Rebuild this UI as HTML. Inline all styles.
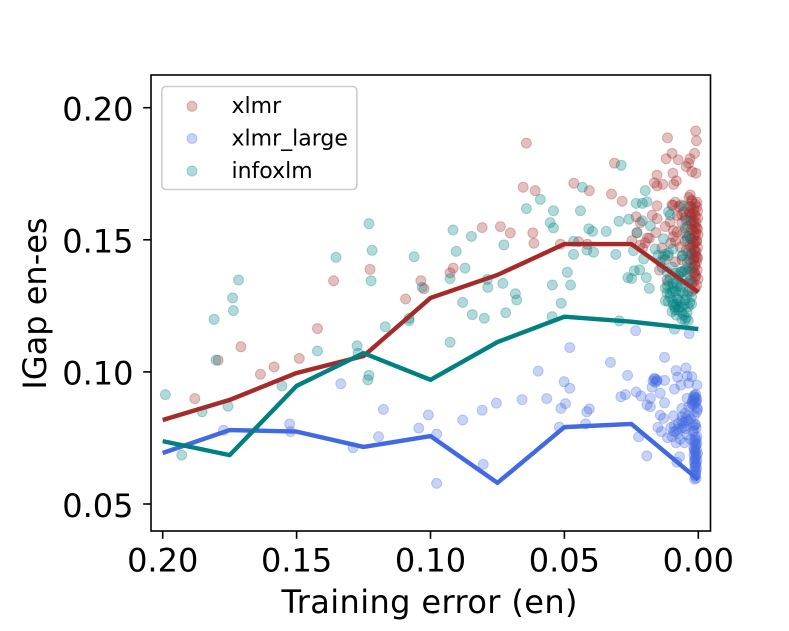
<!DOCTYPE html>
<html lang="en">
<head>
<meta charset="utf-8">
<title>IGap en-es vs training error</title>
<style>
html,body{margin:0;padding:0;background:#fff;}
svg{display:block;}
text{font-family:"DejaVu Sans","Liberation Sans",sans-serif;fill:#000;}
</style>
</head>
<body>
<svg id="chart" xmlns="http://www.w3.org/2000/svg" width="789" height="631" viewBox="0 0 789 631"></svg>
<script>
const xTickValues = [0.20, 0.15, 0.10, 0.05, 0.00];
const yTickValues = [0.05, 0.10, 0.15, 0.20];
const xTickLabels = ['0.20', '0.15', '0.10', '0.05', '0.00'];
const yTickLabels = ['0.05', '0.10', '0.15', '0.20'];
const seriesNames = ['xlmr', 'xlmr_large', 'infoxlm'];

const lineErrors = [0.2, 0.175, 0.15, 0.125, 0.1, 0.075, 0.05, 0.025, 0];
const xlmrLine = [0.0818, 0.0894, 0.0996, 0.106, 0.128, 0.1367, 0.1484, 0.1484, 0.1302];
const xlmrLargeLine = [0.0693, 0.078, 0.0774, 0.0716, 0.0757, 0.058, 0.0791, 0.0803, 0.0592];
const infoxlmLine = [0.0738, 0.0685, 0.0947, 0.1071, 0.097, 0.1113, 0.1209, 0.119, 0.1162];

const xlmrPoints = [
[.1362,.1345],[.1226,.1388],[.1036,.1345],[.1024,.1315],[.1093,.1276],[.1708,.1095],[.1422,.1164],[.1793,.1044],[.1635,.0991],[.1584,.1019],[.149,.1051],[.188,.0899],
[.0642,.1866],[.0654,.1699],[.0609,.1686],[.0807,.1546],[.0739,.155],[.0702,.1526],[.0618,.1526],[.0614,.1487],[.0915,.1393],[.0927,.1375],[.0515,.1483],[.0465,.1714],[.0407,.1686],[.0313,.179],[.0324,.1673],[.0284,.1646],[.0447,.1493],[.0414,.1483],[.0248,.1497],[.0232,.1587],[.0217,.1565],[.0229,.1527],[.0183,.1506],[.0198,.1489],[.0208,.1468],
[.0154,.1629],[.0172,.1593],[.0154,.158],[.0158,.1527],[.0123,.155],[.0154,.1745],[.0164,.1716],[.0154,.1704],[.0133,.171],[.0115,.1886],[.0098,.1827],[.012,.1807],[.0075,.1803],[.0095,.1752],[.0082,.1723],[.0092,.171],[.001,.1912],[.0007,.1875],[.0014,.1827],[.0031,.1807],[.0045,.1777],[.0036,.179],[.0024,.1758],[.0009,.1752],[.003,.167],[.0086,.1642],[.0065,.1632],[.0098,.1632],[.0005,.1642],
[.0217,.148],[.019,.1507],[.0136,.1469],[.0093,.1512],[.0056,.1526],[.0067,.1473],[.0086,.1417],[.0049,.1386],[.0117,.1348],[.0061,.1424],[.0105,.1567],[.0079,.153],[.0072,.1625],[.0055,.1605],[.0048,.1585],[.0078,.1592],[.0062,.1565],[.0035,.1625],[.0032,.1598],[.0028,.1572],[.0041,.1548],[.0034,.1515],[.0103,.1488],[.0125,.1425],[.0145,.1385],
[.0024,.1645],[.0012,.1635],[.0006,.1625],[.0018,.1617],[.0003,.1608],[.0022,.1598],[.0011,.159],[.0002,.1582],[.0019,.1575],[.0008,.1566],[.0025,.1558],[.0013,.155],[.0003,.1542],[.002,.1535],[.0009,.1527],[.0001,.1519],[.0016,.1511],[.0024,.1503],[.0006,.1495],[.0012,.1487],[.0021,.1479],[.0003,.1471],[.0015,.1463],[.0008,.1455],[.0023,.1447],[.0011,.1439],[.0002,.1431],[.0018,.1423],[.0007,.1415],[.0013,.1405],[.0021,.1395],[.0004,.1385],[.0016,.1375],[.0009,.1365],[.0001,.1352],[.0018,.134],[.0006,.1328],[.0012,.1315],[.0025,.1305],[.0029,.1345],[.0033,.1425],[.0031,.148],
[.0095,.163],[.0062,.1595],[.0093,.1535],[.0085,.1495],[.0035,.166],[.0025,.165],[.005,.1495],[.0045,.146],[.0028,.1625],[.0033,.1605],[.0015,.1605],[.0028,.1585],[.0015,.1565],[.0026,.154],[.0012,.152],[.0028,.1505],[.0018,.149],[.0027,.147],[.0012,.1455],[.0028,.1445],[.0016,.143],[.0026,.1412],[.0012,.14],[.0025,.138],[.0012,.1358],[.0024,.1338],[.0014,.1375],[.0007,.1495],[.0007,.1545],[.0006,.1435]
];

const xlmrLargePoints = [
[.1773,.0779],[.1526,.0803],[.1523,.0774],[.1335,.0955],[.1289,.0713],[.1176,.0858],[.1194,.0755],[.1044,.0787],[.1008,.0837],[.0977,.0765],[.0977,.0578],[.088,.0818],[.0807,.0855],[.0754,.0882],[.0658,.0895],[.0566,.0899],[.0598,.1003],[.0803,.065],[.048,.1092],[.0501,.0963],[.048,.0938],[.0496,.088],[.0513,.0862],[.0519,.0791],[.0416,.0849],[.0407,.086],[.0421,.0803],[.0328,.1036],[.0264,.0987],[.0234,.1156],[.0289,.0906],[.0272,.0914],[.0232,.0924],[.0214,.0909],[.0192,.0875],[.0179,.0868],[.0179,.09],[.0223,.0754],[.0192,.0682],
[.0034,.1145],[.0126,.1055],[.0083,.1005],[.0046,.1015],[.0126,.0968],[.0169,.0966],[.0161,.0974],[.0154,.0969],[.0173,.0942],[.0142,.0919],[.0126,.0883],[.0089,.0935],[.0077,.098],[.0065,.095],[.0042,.0984],[.0024,.0982],[.0036,.0957],[.0005,.095],[.0018,.0906],[.0042,.09],[.0005,.0894],[.0024,.0881],[.0003,.0858],[.0036,.0868],[.0061,.0862],[.0049,.0843],[.0061,.083],[.0092,.0834],[.0142,.0836],[.013,.0824],[.0151,.079],[.0138,.0774],[.0115,.0751],[.0092,.0774],[.0098,.0755],[.0083,.0732],[.0074,.0805],[.0061,.0787],[.0042,.0761],[.0011,.0799],[.0005,.0755],[.0052,.0732],[.007,.0679],[.008,.0658],
[.0015,.0912],[.0008,.0902],[.0012,.0888],[.0021,.0875],[.0006,.0848],[.0015,.0835],[.0028,.0822],[.0038,.0815],[.0052,.0795],[.0078,.0768],[.0068,.0745],[.0029,.0745],[.0016,.0778],
[.0012,.0752],[.0008,.0742],[.0015,.0735],[.0005,.0728],[.0011,.072],[.0017,.0713],[.0007,.0706],[.0013,.0699],[.0003,.0692],[.0016,.0685],[.0009,.0678],[.0012,.0672],[.0005,.0665],[.0015,.0658],[.0008,.0652],[.0011,.0645],[.0006,.0636],[.0014,.0628],[.0009,.0618],[.0012,.0606],[.0008,.0598],[.0014,.0594],
[.0012,.0905],[.0018,.0895],[.0008,.0885],[.0015,.0875],[.001,.0915],[.0022,.089],[.0005,.0865],[.0045,.0825],[.005,.081],[.0058,.0805],[.0062,.0815],[.0075,.0785],[.0085,.0775],[.009,.0795],[.0102,.079],[.0048,.0785],[.0012,.0802],[.0018,.0795],[.0008,.0788],[.0021,.0775],[.0013,.074],[.0009,.0725],[.0015,.0705],[.0011,.0695],[.0007,.0682],[.0013,.0668],[.001,.0655],[.0013,.064],[.0009,.0625],[.0011,.061],[.0035,.0835],[.0155,.0965],[.0165,.0975],[.016,.096]
];

const infoxlmPoints = [
[.123,.1561],[.1218,.146],[.1353,.1434],[.1061,.1436],[.1222,.1345],[.1717,.1348],[.1739,.128],[.1736,.1232],[.1031,.132],[.1808,.1199],[.1801,.1045],[.1169,.1171],[.108,.1203],[.108,.1194],[.1274,.1099],[.127,.107],[.1422,.1079],[.123,.0987],[.1234,.097],[.1555,.0947],[.1756,.087],[.1853,.0849],[.199,.0914],[.1929,.0685],
[.0916,.1537],[.0847,.1513],[.0904,.1456],[.0871,.1393],[.0927,.1353],[.0726,.1481],[.0788,.135],[.0786,.132],[.073,.1335],[.0683,.1296],[.0678,.1272],[.088,.1263],[.0642,.1618],[.059,.1653],[.0541,.161],[.0553,.1565],[.0541,.1545],[.0466,.1494],[.0466,.1445],[.0416,.1461],[.0391,.1453],[.044,.161],[.0433,.1699],[.0409,.1542],[.0395,.1532],[.0344,.1532],[.0308,.1445],[.0296,.157],[.0259,.1578],[.0288,.1782],[.0232,.1638],[.0209,.1638],[.0192,.1644],[.0198,.1686],[.0209,.1572],[.0179,.1553],[.0229,.1527],[.0242,.1459],[.0204,.1428],[.0489,.1377],[.0545,.1329],[.0477,.1329],[.0512,.126],[.0219,.1386],[.0239,.1383],[.0263,.1357],[.0249,.1353],[.0194,.1357],[.0183,.1316],[.013,.1504],[.0844,.1217],[.0799,.1203],[.0719,.1224],[.0546,.1209],[.0927,.1112],[.0295,.1193],[.0089,.1162],
[.0042,.1502],[.015,.1442],[.0131,.1436],[.0112,.145],[.0061,.1439],[.0038,.1451],[.0112,.1341],[.0086,.1374],[.0056,.1379],[.0117,.1299],[.0093,.1318],[.0067,.1322],[.0037,.1304],[.0112,.1266],[.008,.128],[.0049,.1272],[.0025,.1257],[.0098,.1228],[.0086,.1234],[.0061,.1245],[.0037,.1247],[.0049,.1196],[.0061,.1199],[.0037,.1194],[.0117,.1379],[.0105,.1355],[.0123,.1318],[.0061,.1348],[.0035,.1341],[.0041,.1379],[.0038,.1336],[.0093,.1253],[.0123,.1269],[.0042,.1291],[.0111,.1606],[.0105,.1594],[.0055,.1628],[.0046,.1575],[.0049,.1544],[.0042,.1512],[.0075,.1363],[.0097,.1397],[.0041,.1416],[.0035,.1393],[.0075,.1272],[.0105,.1299],[.0056,.1299],[.0142,.1416],[.0161,.1465],[.0082,.1336],[.0095,.1305],[.0072,.1245],[.0025,.1285],[.0065,.1378],[.0032,.1262],[.0082,.1215],[.0135,.1395],
[.0125,.1445],[.0112,.144],[.0095,.1465],[.0058,.144],[.0062,.138],[.0095,.1335],[.0078,.1325],[.0115,.1325],[.0105,.1285],[.0085,.1305],[.0065,.1305],[.0095,.1265],[.0082,.1255],[.0068,.1265],[.0052,.1255],[.0088,.1245],[.0062,.1225],[.0055,.1215],[.0045,.1205],[.0042,.1225],[.0075,.1235]
];

const PLOT = {left: 151, right: 710.5, top: 75, bottom: 531};
function xAxis(v) { return 698.3 + (v - 0) * (162.7 - 698.3) / 0.2; }
function yAxis(v) { return 504 + (v - 0.05) * (107.7 - 504) / 0.15; }

const NS = 'http://www.w3.org/2000/svg';
const svg = document.getElementById('chart');
function make(tag, attrs, parent) {
  const el = document.createElementNS(NS, tag);
  for (const k in attrs) el.setAttribute(k, attrs[k]);
  (parent || svg).appendChild(el);
  return el;
}

// plot background
const bg = make('rect', {x: PLOT.left, y: PLOT.top, width: PLOT.right - PLOT.left, height: PLOT.bottom - PLOT.top, fill: '#fff'});



const MARKER_R = 5;
function drawScatter(points, color, name) {
  const g = make('g', {});
  
  
  points.forEach(function (p) {
    const c = make('circle', {cx: xAxis(p[0]).toFixed(2), cy: yAxis(p[1]).toFixed(2), r: MARKER_R, fill: color, 'fill-opacity': 0.3, stroke: color, 'stroke-opacity': 0.3, 'stroke-width': 1}, g);
    
    
  });
}
drawScatter(xlmrPoints, '#a52a2a', 'xlmr');
drawScatter(xlmrLargePoints, '#4169e1', 'xlmr-large');
drawScatter(infoxlmPoints, '#008080', 'infoxlm');

function drawLine(values, color, name) {
  const pts = values.map(function (v, i) { return xAxis(lineErrors[i]).toFixed(2) + ',' + yAxis(v).toFixed(2); }).join(' ');
  const l = make('polyline', {points: pts, fill: 'none', stroke: color, 'stroke-width': 4.4, 'stroke-linejoin': 'round', 'stroke-linecap': 'butt'});
  
  
}
drawLine(xlmrLine, '#a52a2a', 'xlmr');
drawLine(xlmrLargeLine, '#4169e1', 'xlmr-large');
drawLine(infoxlmLine, '#008080', 'infoxlm');

// spines
const spines = make('rect', {x: PLOT.left, y: PLOT.top, width: PLOT.right - PLOT.left, height: PLOT.bottom - PLOT.top, fill: 'none', stroke: '#000', 'stroke-width': 1.6});



// ticks
xTickValues.forEach(function (v, i) {
  const t = make('line', {x1: xAxis(v), x2: xAxis(v), y1: PLOT.bottom, y2: PLOT.bottom + 7.8, stroke: '#000', 'stroke-width': 1.6});
  
  
  const lb = make('text', {x: xAxis(v), y: 571.7, 'text-anchor': 'middle', 'font-size': 32});
  lb.textContent = xTickLabels[i];
  
  
});
yTickValues.forEach(function (v, i) {
  const t = make('line', {x1: PLOT.left - 7.8, x2: PLOT.left, y1: yAxis(v), y2: yAxis(v), stroke: '#000', 'stroke-width': 1.6});
  
  
  const lb = make('text', {x: 133.5, y: yAxis(v) + 12.8, 'text-anchor': 'end', 'font-size': 32});
  lb.textContent = yTickLabels[i];
  
  
});

// axis titles
const xTitle = make('text', {x: 429.5, y: 613, 'text-anchor': 'middle', 'font-size': 32, textLength: 296, lengthAdjust: 'spacing'});
xTitle.textContent = 'Training error (en)';


const yTitle = make('text', {transform: 'translate(46 303.5) rotate(-90)', 'text-anchor': 'middle', 'font-size': 32});
yTitle.textContent = 'IGap en-es';



// legend
const legend = make('g', {});


const legendBox = make('rect', {x: 161.8, y: 86.5, width: 195, height: 103, rx: 4, ry: 4, fill: '#fff', 'fill-opacity': 0.8, stroke: '#ccc', 'stroke-width': 1.6}, legend);


const legendColors = ['#a52a2a', '#4169e1', '#008080'];
const legendY = [106.3, 138.5, 171];
seriesNames.forEach(function (name, i) {
  const m = make('circle', {cx: 192, cy: legendY[i], r: MARKER_R, fill: legendColors[i], 'fill-opacity': 0.3, stroke: legendColors[i], 'stroke-opacity': 0.3, 'stroke-width': 1}, legend);
  
  
  const t = make('text', {x: 231.5, y: legendY[i] + 6.8, 'font-size': 22}, legend);
  t.textContent = name;
  
  
});
</script>
</body>
</html>
